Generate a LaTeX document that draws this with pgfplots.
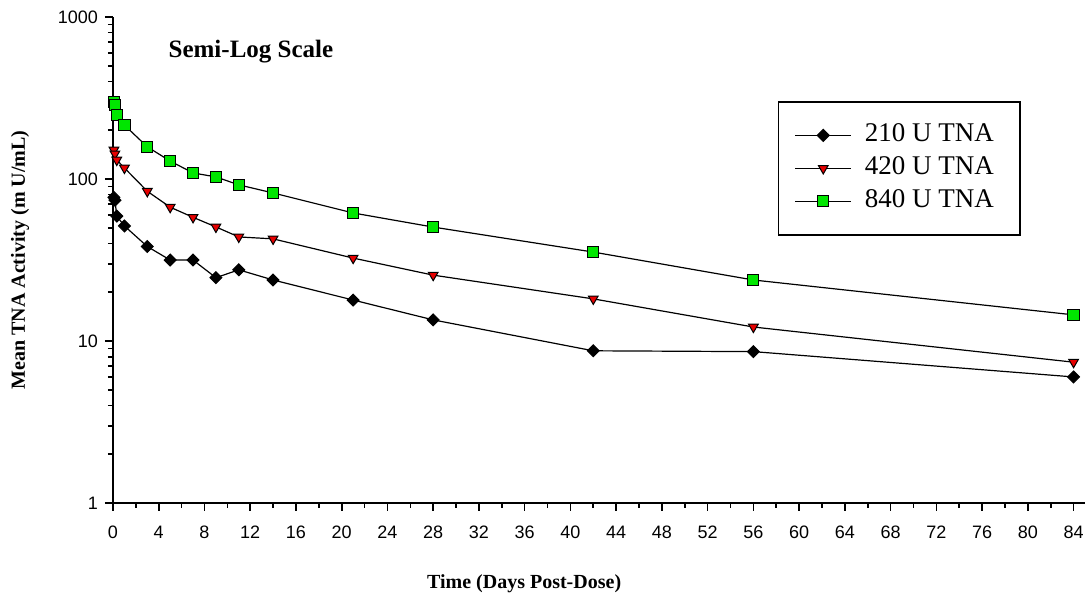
\documentclass[border=0pt]{standalone}
\usepackage{fontspec}
\setmainfont{Liberation Serif}
\newfontfamily\arial{Liberation Sans}
\usepackage{pgfplots}
\pgfplotsset{compat=1.18}
\definecolor{mkgreen}{RGB}{0,230,0}
\definecolor{mkred}{RGB}{230,0,0}
\begin{document}
\begin{tikzpicture}
\begin{axis}[
 at={(0,0)}, anchor=south west,
 scale only axis, width=486pt, height=243pt,
 ymode=log, xmin=0, xmax=85, ymin=1, ymax=1000,
 axis lines=left, axis line style={-, line width=1pt},
 xtick={0,4,...,84}, minor x tick num=1,
 ytick={1,10,100,1000}, yticklabels={1,10,100,1000},
 minor ytick={2,3,4,5,6,7,8,9,20,30,40,50,60,70,80,90,200,300,400,500,600,700,800,900},
 tick align=outside, major tick length=4pt, minor tick length=2.5pt,
 tick style={black, line width=0.8pt},
 /pgf/number format/assume math mode=true,
 tick label style={font=\arial\fontsize{9}{10}\selectfont},
 x tick label style={yshift=-4pt},
 xlabel={Time (Days Post-Dose)}, ylabel={Mean TNA Activity (m U/mL)},
 label style={font=\bfseries\fontsize{10}{12}\selectfont},
 xlabel style={at={(axis description cs:0.423,-0.1667)}, anchor=center},
 ylabel style={at={(axis description cs:-0.0955,0.5)}, anchor=center},
 clip=false,
 legend style={at={(rel axis cs:0.684,0.827)}, anchor=north west, draw=black, line width=0.8pt,
   font=\fontsize{13.5}{15}\selectfont, inner xsep=8pt, inner ysep=10pt, row sep=3pt, column sep=5.5pt,
   nodes={inner sep=1pt, text height=9pt, text depth=2.5pt}},
 legend cell align=left,
 legend image code/.code={\draw[mark repeat=2,mark phase=2,#1] plot coordinates {(0pt,0pt) (14pt,0pt) (28pt,0pt)};},
]
\addplot[black, line width=0.6pt, mark=square*, mark size=2.1pt, mark options={rotate=45, fill=black, draw=black, line width=0.5pt}]
 coordinates {(0.083,77) (0.17,74) (0.33,59) (1,51.3) (3,38.3) (5,31.6) (7,31.6) (9,24.6) (11,27.5) (14,23.8) (21,17.9) (28,13.5) (42,8.7) (56,8.6) (84,6.0)};
\addlegendentry{210 U TNA\rule{4pt}{0pt}}
\addplot[black, line width=0.6pt, mark=triangle*, mark size=2.8pt, mark options={rotate=180, fill=mkred, draw=black, line width=0.5pt}]
 coordinates {(0.083,151) (0.17,143) (0.33,131) (1,117) (3,84) (5,67) (7,58) (9,50.6) (11,43.9) (14,42.7) (21,32.5) (28,25.5) (42,18.2) (56,12.2) (84,7.4)};
\addlegendentry{420 U TNA\rule{4pt}{0pt}}
\addplot[black, line width=0.6pt, mark=square*, mark size=2.8pt, mark options={fill=mkgreen, draw=black, line width=0.5pt}]
 coordinates {(0.083,298) (0.17,287) (0.33,248) (1,215) (3,158) (5,129) (7,109) (9,103) (11,92) (14,82) (21,61.7) (28,50.5) (42,35.4) (56,23.8) (84,14.5)};
\addlegendentry{840 U TNA\rule{4pt}{0pt}}
\node[anchor=west, font=\bfseries\fontsize{12.5}{14}\selectfont] at (rel axis cs:0.05,0.928) {Semi-Log Scale};
\end{axis}
\pgfresetboundingbox
\path (-56.5pt,-45.5pt) rectangle (486pt,251.5pt);
\end{tikzpicture}
\end{document}
